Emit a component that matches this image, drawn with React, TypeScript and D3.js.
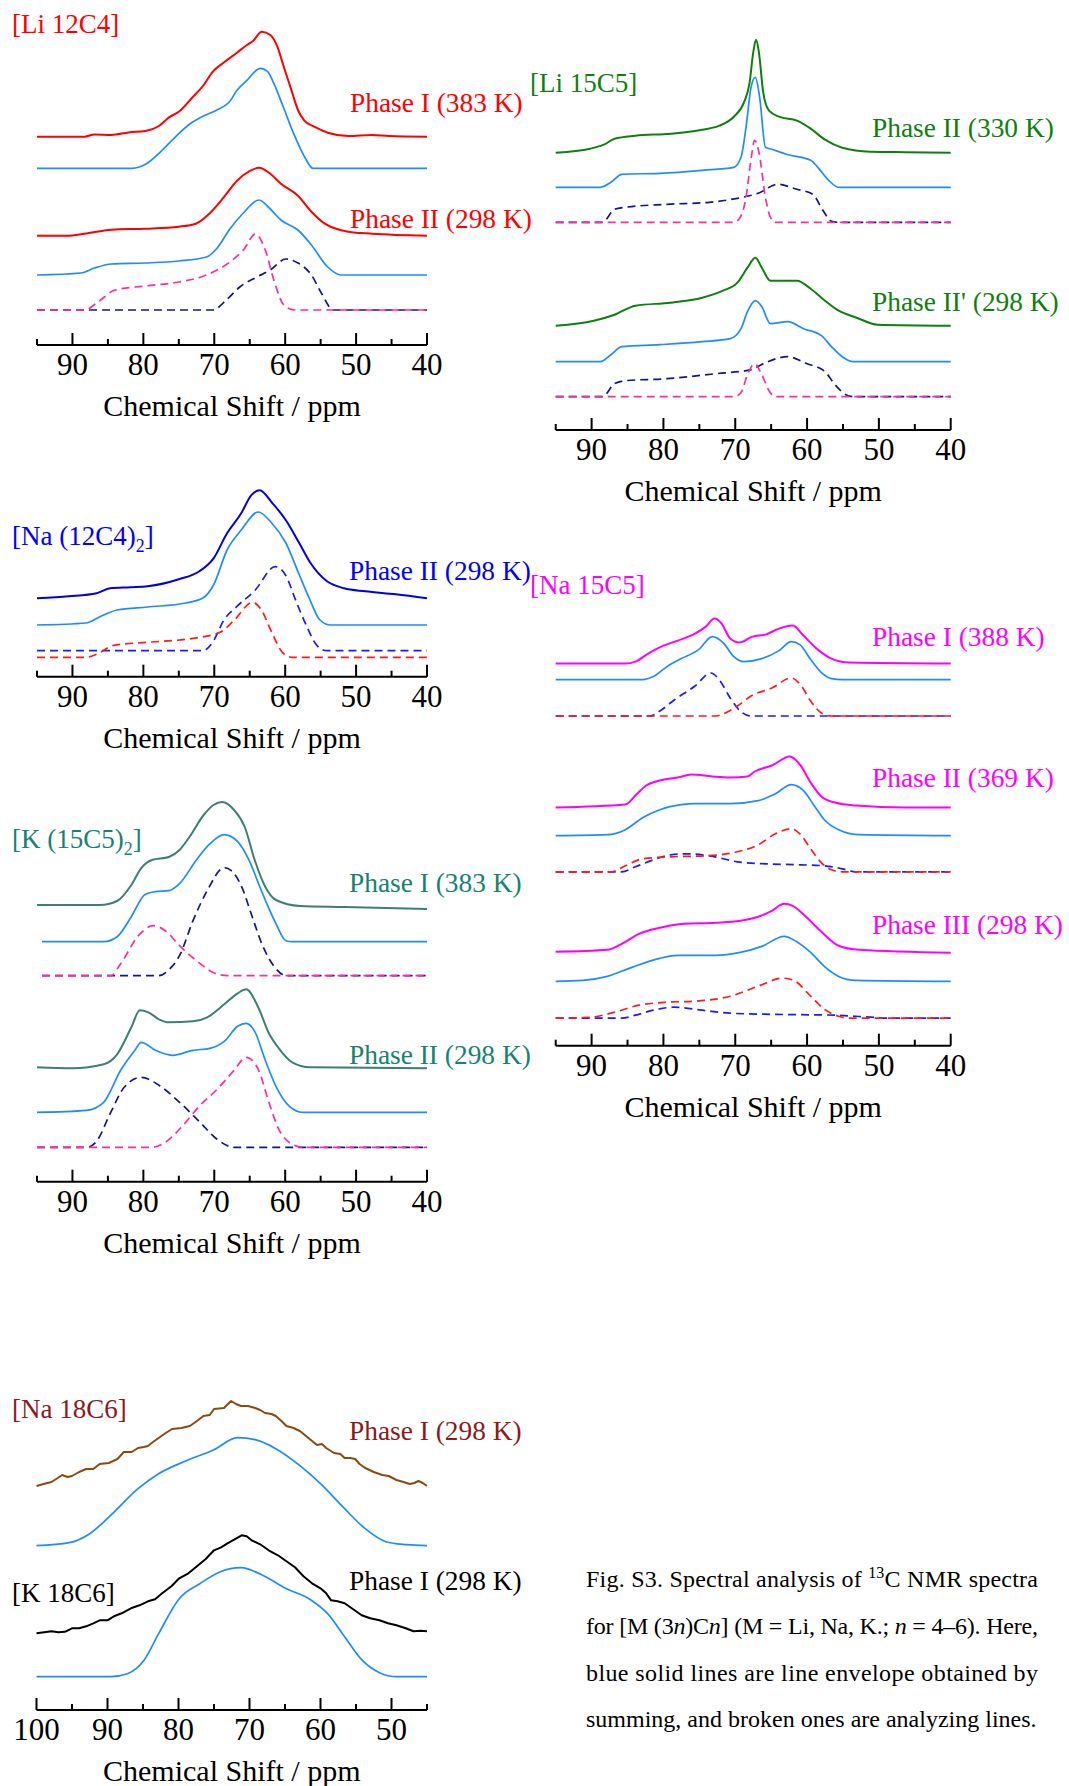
import React from "react";
import * as d3 from "d3";

type Pt = [number, number]; // [ppm, intensity (a.u.)]

// ---------- [Li 12C4] ----------
const li12c4IRaw: Pt[] = [[95,0],[88.3,0],[86.9,2.3],[84.5,1.7],[82.1,4.3],[79.7,5.7],[77.8,10.7],[76.4,19.3],[75,25],[73,40],[71.6,50.7],[70.2,65],[68.7,74],[66.8,84],[65.4,91.7],[64.5,96],[63.3,105],[62.1,101.7],[61.1,90],[60.2,70],[59.2,48.3],[58.2,26.7],[57.3,16],[55.9,10],[54,4],[51.1,0.7],[47.7,1.7],[45.4,0.7],[40,0]];
const li12c4IEnv: Pt[] = [[95,0],[81.6,0],[79.7,4],[77.8,15],[75.4,32],[73.5,44],[71.6,52],[69.7,58],[67.8,67],[66.8,78],[65.4,88],[63.5,100],[62.5,97],[61.6,85],[60.2,60],[58.7,33],[57.3,12],[56.1,0],[40,0]];
const li12c4IIRaw: Pt[] = [[95,0],[90.7,0],[88.3,2],[84.5,6],[79.7,7],[75,9],[72.6,12],[70.7,22],[68.7,38],[66.8,55],[64.9,65],[63.7,68],[62.1,62],[60.6,52],[58.2,40],[56.3,24],[54.4,12],[51.1,4],[47.7,2],[40,0]];
const li12c4IIEnv: Pt[] = [[95,0],[88.8,2],[86.9,7],[84.5,11],[79.7,12],[75,14],[71.1,18],[69.7,26],[67.8,46],[65.9,62],[63.7,75],[62.1,66],[60.6,55],[58.2,45],[56.3,30],[54,8],[52.1,0],[40,0]];
const li12c4IIA: Pt[] = [[95,0],[88.3,0],[86.4,8],[84,20],[79.7,24],[75,28],[71.1,35],[67.8,48],[65.9,60],[64.2,76],[62.8,60],[61.6,30],[60.2,5],[58.7,0],[40,0]];
const li12c4IIB: Pt[] = [[95,0],[70.2,0],[68.3,10],[66.4,23],[64,33],[62.1,40],[59.9,51],[58.2,47],[56.3,35],[54.9,17],[53.2,0],[40,0]];

// ---------- [Li 15C5] ----------
const li15c5IIRaw: Pt[] = [[95,0],[90.2,4],[88.3,8],[86.8,14],[83.9,17],[79,19],[74.6,23],[72.2,27],[70.2,36],[68.8,50],[68,70],[67.5,100],[67.1,113],[66.7,100],[66.1,60],[65.3,42],[63.9,36],[61.4,32],[59.5,24],[57.5,13],[55.1,5],[51.2,1],[46.3,0.5],[40,0]];
const li15c5IIEnv: Pt[] = [[95,0],[88.8,0],[87.3,5],[85.8,13],[80.5,14],[74.6,17],[70.2,20],[69.2,30],[68.5,60],[67.8,100],[67.2,110],[66.6,90],[65.8,40],[64.9,38],[62.9,33],[59.5,27],[58.5,20],[57,7],[55.6,0],[40,0]];
const li15c5IIA: Pt[] = [[95,0],[70.2,0],[69.5,3],[68.5,25],[67.8,63],[67.3,82],[66.7,70],[65.8,25],[65.1,5],[64.4,0],[40,0]];
const li15c5IIB: Pt[] = [[95,0],[88.5,0],[86.8,13],[85.3,15],[79.5,18],[73.6,20],[69.7,24],[66.8,29],[64.1,38],[61.4,33],[59.2,28],[57.8,12],[56.6,1],[55.6,0],[40,0]];
const li15c5IIpRaw: Pt[] = [[95,0],[89.7,5],[86.8,11],[83.9,20],[79,23],[74.6,28],[71.7,35],[69.7,43],[68.3,58],[67.2,68],[66.3,58],[65.1,45],[61.4,45],[59.5,37],[57.5,25],[55.6,15],[53.1,8],[50.2,1],[40,0]];
const li15c5IIpEnv: Pt[] = [[95,0],[88.8,0],[87.3,7],[85.8,15],[80.5,17],[74.6,20],[70.7,23],[69.2,33],[68.3,50],[67.2,61],[66.3,55],[65.1,38],[62.7,40],[60.5,33],[58,26],[56.6,15],[55.1,5],[53.6,0],[40,0]];
const li15c5IIpA: Pt[] = [[95,0],[70.2,0],[69.2,4],[68.3,22],[67.3,33],[66.3,22],[65.3,6],[64.4,0],[40,0]];
const li15c5IIpB: Pt[] = [[95,0],[88.5,0],[86.8,13],[85.3,16],[79.5,18],[72.7,23],[67.8,27],[65.8,34],[62.7,40],[60,33],[57.5,25],[56.1,12],[54.6,2],[53.6,0],[40,0]];

// ---------- [Na (12C4)2] ----------
const na12c4Raw: Pt[] = [[95,0],[90.5,2],[86.6,5],[84.7,10],[81.8,11],[79.4,12],[75,19],[72.1,27],[70.1,40],[68.2,65],[66.2,85],[64.8,103],[63.6,108],[61.9,96],[59.9,78],[58,55],[56.5,36],[54.1,17],[51.7,10],[48.7,7],[44.4,4],[40,0]];
const na12c4Env: Pt[] = [[95,0],[88.1,2],[86.2,8],[83.7,15],[79.4,18],[74,22],[71.6,27],[70.1,40],[68.2,75],[66.2,95],[63.8,113],[61.9,102],[59.9,82],[58,50],[56.5,25],[55.1,5],[53.6,0],[40,0]];
const na12c4A: Pt[] = [[95,0],[71.6,0],[70.1,10],[68.7,30],[66.7,45],[64.3,60],[61.4,84],[59.9,75],[58.5,50],[57,25],[55.5,5],[54.1,0],[40,0]];
const na12c4B: Pt[] = [[95,0],[88.1,0],[86.6,3],[84.2,12],[79.4,15],[73,19],[69.2,25],[67.2,37],[64.6,55],[63.4,48],[61.9,25],[60.4,5],[59,0],[40,0]];

// ---------- [K (15C5)2] ----------
const k15c5IRaw: Pt[] = [[95,0],[86.1,0],[83.7,4],[81.7,20],[80.3,37],[78.8,45],[76.4,48],[74.9,55],[73.5,68],[71.5,90],[70.1,100],[68.9,103],[67.2,95],[65.7,78],[64.3,45],[62.8,18],[61.3,5],[57.9,-1],[51.6,-2],[40,-4]];
const k15c5IEnv: Pt[] = [[94.3,0],[85.6,0],[83.7,5],[81.7,25],[79.8,47],[78.3,50],[76.4,51],[74.9,58],[72.5,82],[70.6,98],[68.6,107],[66.7,100],[65.2,83],[63.3,50],[61.3,18],[59.9,1],[59,0],[40,0]];
const k15c5IA: Pt[] = [[94.3,0],[84.6,0],[83.2,12],[80.7,40],[78.6,50],[76.9,45],[74.9,30],[72.5,15],[70.1,3],[68.1,0],[40,0]];
const k15c5IB: Pt[] = [[94.3,0],[77.8,0],[76.4,6],[74.9,20],[73,55],[71,85],[68.6,108],[67.6,105],[66.2,90],[64.7,60],[63.3,32],[61.3,7],[59.9,0],[40,0]];
const k15c5IIRaw: Pt[] = [[95,0],[90,-1],[85.6,3],[83.7,13],[81.7,40],[80.5,57],[79.3,55],[77.8,48],[76.4,45],[73,46],[71,50],[68.6,63],[66.7,74],[65.5,78],[63.8,60],[62.3,34],[60.9,19],[59,5],[56.5,0],[40,-1]];
const k15c5IIEnv: Pt[] = [[95,0],[88,2],[85.6,10],[83.2,42],[81.2,62],[80.3,70],[78.3,62],[75.9,57],[73,62],[70.6,64],[68.6,71],[66.7,86],[65.5,89],[64.3,81],[62.8,52],[61.3,26],[59.4,6],[57.5,0],[40,0]];
const k15c5IIA: Pt[] = [[95,0],[88,0],[86.6,6],[84.6,35],[82.7,60],[80.3,70],[77.8,62],[74.9,45],[72,25],[69.6,8],[67.2,0],[40,0]];
const k15c5IIB: Pt[] = [[95,0],[78.8,0],[76.9,5],[74.4,22],[72,42],[69.6,58],[67.2,77],[65.5,90],[63.8,78],[62.3,45],[60.9,18],[59,3],[57.5,0],[40,0]];

// ---------- [Na 15C5] ----------
const na15c5IRaw: Pt[] = [[95,0],[85.3,0],[83.9,2],[81.9,11],[80,18],[78,23],[75.6,30],[74.1,37],[72.9,45],[71.9,40],[70.7,25],[69.4,21],[67.6,27],[65.8,29],[63.9,35],[62,38],[60.5,28],[58.5,14],[56.6,5],[54.1,1],[40,0]];
const na15c5IEnv: Pt[] = [[95,0],[82.9,0],[81.4,3],[79.5,13],[77.5,21],[75.1,30],[73.2,43],[71.7,37],[70.2,23],[68.8,18],[66.3,21],[63.9,29],[62.2,38],[61,35],[59.5,20],[58,7],[56.6,1],[55.1,0],[40,0]];
const na15c5IA: Pt[] = [[95,0],[81.9,0],[80.5,5],[78.5,16],[75.6,30],[73.4,43],[72.2,36],[70.7,18],[69.3,5],[67.8,0],[40,0]];
const na15c5IB: Pt[] = [[95,0],[72.7,0],[71.7,2],[69.7,10],[67.8,20],[64.9,28],[62.2,38],[61,32],[59.5,15],[58,3],[56.6,0],[40,0]];
const na15c5IIRaw: Pt[] = [[95,0],[85.3,3],[83.9,12],[82.4,22],[80.5,27],[78,30],[76.1,33],[73.2,31],[70.7,30],[68.3,31],[67.3,36],[64.9,42],[62.4,51],[61,43],[59.5,25],[58,11],[56.1,5],[53.2,2],[46.3,0],[40,0]];
const na15c5IIEnv: Pt[] = [[95,0],[87.8,1],[85.3,6],[82.9,18],[80.5,26],[77.5,31],[75.6,32],[70.7,32],[66.8,35],[64.4,42],[62.2,51],[60.5,45],[59,30],[57.6,16],[55.6,6],[52.7,1],[40,0]];
const na15c5IIA: Pt[] = [[95,0],[87.3,0],[85.3,6],[82.9,13],[79,15],[74.1,16],[69.7,20],[66.8,27],[64.4,38],[62.2,43],[61,38],[59.5,23],[58,9],[56.6,2],[55.1,0],[40,0]];
const na15c5IIB: Pt[] = [[95,0],[85.8,0],[83.9,5],[81.4,12],[79,17],[76.6,18],[73.6,16],[69.7,10],[65.8,8],[61,7],[57.6,6],[55.1,3],[53.2,0],[40,0]];
const na15c5IIIRaw: Pt[] = [[95,0],[87.8,2],[85.8,8],[83.4,18],[80.5,24],[77.1,28],[72.7,29],[69.3,31],[66.8,35],[64.9,41],[63.2,48],[62,46],[60,34],[58,20],[55.6,6],[52.7,2],[40,-1]];
const na15c5IIIEnv: Pt[] = [[95,0],[91.2,1],[87.8,5],[84.4,14],[80.5,23],[78,26],[72.7,26],[69.3,29],[66.3,35],[63.2,45],[61.5,40],[59.5,29],[57.6,15],[55.6,5],[53.2,1],[40,0]];
const na15c5IIIA: Pt[] = [[95,0],[90.2,1],[87.3,5],[83.4,13],[79.5,16],[75.6,17],[70.7,22],[66.8,32],[63.4,40],[61.9,38],[59.5,22],[57.6,9],[55.6,2],[54.1,0],[40,0]];
const na15c5IIIB: Pt[] = [[95,0],[85.8,0],[83.9,3],[81.4,8],[78.5,11],[74.6,8],[70.7,5],[65.8,4],[61,3.5],[56.1,3],[51.2,1],[48.8,0],[40,0]];

// ---------- [Na 18C6] / [K 18C6] ----------
const na18c6Raw: Pt[] = [[100,0],[99,2],[97.9,4],[97,8],[96.4,11],[95.6,9],[95,10],[94,14],[93,17],[92,17],[91.1,22],[89.8,23],[88.6,27],[87.7,34],[86.6,34],[85.7,38],[84.9,39],[84.3,40],[83.6,44],[82.8,48],[81.8,53],[80.9,57],[79.6,58],[78.4,60],[77.4,65],[76.5,70],[75.6,71],[75,77],[73.6,78],[72.6,85],[71.9,82],[71.2,80],[70.2,80],[69.2,78],[68.5,76],[67.8,73],[66.9,72],[66.3,70],[65.5,65],[64.8,60],[63.8,58],[62.9,55],[61.7,48],[60.5,41],[59.8,42],[59.2,38],[58.1,33],[57.2,32],[56.6,28],[55.8,28],[55.1,27],[54.5,22],[53.7,18],[52.5,14],[51.3,11],[50.4,10],[49.3,6],[48.3,4],[47.4,2],[46.8,3],[46.2,5],[45.6,3],[45,0]];
const na18c6Env: Pt[] = [[100,0],[95.4,3],[92.5,12],[89.6,30],[85.7,57],[82.8,72],[78.9,85],[75,96],[71.7,108],[69.2,106],[66.3,97],[62.9,80],[60,62],[56.6,37],[53.7,17],[50.8,4],[47.9,1],[45,0]];
const k18c6Raw: Pt[] = [[100,0],[98.9,1],[97.9,2],[96.9,1],[96,1.5],[95,5],[94,5],[93,7],[92,10],[91.1,13],[90,13],[89.1,17],[88,20],[86.7,25],[85.5,28],[84.3,32],[83.3,34],[82.3,40],[81,47],[79.9,55],[78.6,60],[77.4,67],[76.2,74],[75,83],[74,86],[73.1,90],[72.1,94],[71.1,98],[70.4,97],[69.7,93],[68.5,89],[67.3,83],[66,78],[64.8,72],[63.6,66],[62.4,57],[61.2,50],[60,45],[59.2,40],[58.5,33],[57.6,32],[56.6,30],[55.4,24],[54.2,18],[53,15],[51.7,13],[50.5,10],[49.3,8],[48,5],[46.9,2],[45.9,2.5],[45,2]];
const k18c6Env: Pt[] = [[100,0],[89.6,0],[87.2,3],[84.8,17],[82.8,43],[79.9,78],[77,93],[74.1,105],[71.2,109],[68.3,102],[64.8,88],[61.4,77],[59,63],[56.6,40],[54.2,17],[51.7,4],[49.3,0],[45,0]];

// ---------- axes ----------
const majorTicks = [90, 80, 70, 60, 50, 40];
const minorTicks = [95, 85, 75, 65, 55, 45];
const majorTicks18 = [100, 90, 80, 70, 60, 50];
const minorTicks18 = [95, 85, 75, 65, 55, 45];

const FONT = '"Liberation Serif", "Times New Roman", Times, serif';
const ENV = "#1E8CFF";
const PINK = "#FF2D9B";
const NAVY = "#14148C";
const PHASE_SIZE = 27.4;

type Trace = { data: Pt[]; base: number; color: string; dashed?: boolean; width?: number; jagged?: boolean };
type Part = { t: string; sub?: boolean };
type Label = { parts: Part[]; x: number; y: number; color: string; size: number };
type Panel = {
  x0: number; x1: number; axisY: number; domain: [number, number];
  major: number[]; minor: number[]; traces: Trace[]; labels: Label[];
};

const lbl = (t: string, x: number, y: number, color: string, size = PHASE_SIZE): Label => ({ parts: [{ t }], x, y, color, size });

const panels: Panel[] = [
  {
    x0: 37, x1: 427, axisY: 345, domain: [95, 40], major: majorTicks, minor: minorTicks,
    traces: [
      { data: li12c4IRaw, base: 208.3, color: "#FF0000", width: 2 },
      { data: li12c4IEnv, base: 176.7, color: ENV },
      { data: li12c4IIRaw, base: 109.3, color: "#FF0000", width: 2 },
      { data: li12c4IIEnv, base: 70, color: ENV },
      { data: li12c4IIB, base: 35, color: NAVY, dashed: true },
      { data: li12c4IIA, base: 35, color: PINK, dashed: true },
    ],
    labels: [
      lbl("[Li 12C4]", 12, 33, "#FF0000", 27),
      lbl("Phase I (383 K)", 350, 112, "#FF0000"),
      lbl("Phase II (298 K)", 350, 228, "#FF0000"),
    ],
  },
  {
    x0: 555.7, x1: 950.7, axisY: 430, domain: [95, 40], major: majorTicks, minor: minorTicks,
    traces: [
      { data: li15c5IIRaw, base: 277.3, color: "#0F7F0F", width: 2 },
      { data: li15c5IIEnv, base: 242.7, color: ENV },
      { data: li15c5IIB, base: 207.7, color: NAVY, dashed: true },
      { data: li15c5IIA, base: 207.7, color: PINK, dashed: true },
      { data: li15c5IIpRaw, base: 104.3, color: "#0F7F0F", width: 2 },
      { data: li15c5IIpEnv, base: 68.3, color: ENV },
      { data: li15c5IIpB, base: 33.3, color: NAVY, dashed: true },
      { data: li15c5IIpA, base: 33.3, color: PINK, dashed: true },
    ],
    labels: [
      lbl("[Li 15C5]", 530, 92, "#0F7F0F", 27),
      lbl("Phase II (330 K)", 872, 137, "#0F7F0F"),
      lbl("Phase II' (298 K)", 872, 310.5, "#0F7F0F"),
    ],
  },
  {
    x0: 37, x1: 427, axisY: 676.7, domain: [95, 40], major: majorTicks, minor: minorTicks,
    traces: [
      { data: na12c4Raw, base: 78.4, color: "#0000E6", width: 2 },
      { data: na12c4Env, base: 51.7, color: ENV },
      { data: na12c4A, base: 26, color: "#1A1AFF", dashed: true },
      { data: na12c4B, base: 19.4, color: "#FF1A1A", dashed: true },
    ],
    labels: [
      { parts: [{ t: "[Na (12C4)" }, { t: "2", sub: true }, { t: "]" }], x: 12, y: 545, color: "#0000FF", size: 27 },
      lbl("Phase II (298 K)", 349, 580, "#0000FF"),
    ],
  },
  {
    x0: 37, x1: 427, axisY: 1181.7, domain: [95, 40], major: majorTicks, minor: minorTicks,
    traces: [
      { data: k15c5IRaw, base: 276.7, color: "#3E7F74", width: 2 },
      { data: k15c5IEnv, base: 240, color: ENV },
      { data: k15c5IB, base: 206, color: NAVY, dashed: true },
      { data: k15c5IA, base: 206, color: PINK, dashed: true },
      { data: k15c5IIRaw, base: 114.4, color: "#3E7F74", width: 2 },
      { data: k15c5IIEnv, base: 69.4, color: ENV },
      { data: k15c5IIA, base: 34.4, color: NAVY, dashed: true },
      { data: k15c5IIB, base: 34.4, color: PINK, dashed: true },
    ],
    labels: [
      { parts: [{ t: "[K (15C5)" }, { t: "2", sub: true }, { t: "]" }], x: 12, y: 848, color: "#178272", size: 27 },
      lbl("Phase I (383 K)", 349, 891.5, "#178272"),
      lbl("Phase II (298 K)", 349, 1064, "#178272"),
    ],
  },
  {
    x0: 555.7, x1: 950.7, axisY: 1045.7, domain: [95, 40], major: majorTicks, minor: minorTicks,
    traces: [
      { data: na15c5IRaw, base: 382.1, color: "#FF00FF", width: 2 },
      { data: na15c5IEnv, base: 366.1, color: ENV },
      { data: na15c5IA, base: 329.7, color: "#1A1AFF", dashed: true },
      { data: na15c5IB, base: 329.7, color: "#FF1A1A", dashed: true },
      { data: na15c5IIRaw, base: 238.2, color: "#FF00FF", width: 2 },
      { data: na15c5IIEnv, base: 210, color: ENV },
      { data: na15c5IIB, base: 173.9, color: "#1A1AFF", dashed: true },
      { data: na15c5IIA, base: 173.9, color: "#FF1A1A", dashed: true },
      { data: na15c5IIIRaw, base: 93.9, color: "#FF00FF", width: 2 },
      { data: na15c5IIIEnv, base: 64.3, color: ENV },
      { data: na15c5IIIB, base: 27.5, color: "#1A1AFF", dashed: true },
      { data: na15c5IIIA, base: 27.5, color: "#FF1A1A", dashed: true },
    ],
    labels: [
      lbl("[Na 15C5]", 530, 594, "#FF00FF", 27),
      lbl("Phase I (388 K)", 872, 645.5, "#FF00FF"),
      lbl("Phase II (369 K)", 872, 787, "#FF00FF"),
      lbl("Phase III (298 K)", 872, 934, "#FF00FF"),
    ],
  },
  {
    x0: 36.5, x1: 427, axisY: 1710, domain: [100, 45], major: majorTicks18, minor: minorTicks18,
    traces: [
      { data: na18c6Raw, base: 224, color: "#8A4A12", width: 2, jagged: true },
      { data: na18c6Env, base: 164.3, color: ENV },
      { data: k18c6Raw, base: 76.7, color: "#000000", width: 2, jagged: true },
      { data: k18c6Env, base: 33.3, color: ENV },
    ],
    labels: [
      lbl("[Na 18C6]", 12, 1418, "#8B1A1A", 27),
      lbl("Phase I (298 K)", 349, 1440, "#8B1A1A"),
      lbl("[K 18C6]", 12, 1602, "#000000", 27),
      lbl("Phase I (298 K)", 349, 1590, "#000000"),
    ],
  },
];

function SpectrumPanel({ p }: { p: Panel }) {
  const x = d3.scaleLinear().domain(p.domain).range([p.x0, p.x1]);
  const y = d3.scaleLinear().domain([0, 400]).range([p.axisY, p.axisY - 400]);
  const xc = (p.x0 + p.x1) / 2;
  return (
    <g>
      {p.traces.map((t, i) => {
        const line = d3
          .line<Pt>()
          .x((d) => x(d[0]))
          .y((d) => y(t.base + d[1]))
          .curve(t.jagged ? d3.curveLinear : d3.curveMonotoneX);
        return (
          <path
            key={i}
            d={line(t.data) || ""}
            fill="none"
            stroke={t.color}
            strokeWidth={t.width ?? 1.7}
            strokeDasharray={t.dashed ? "8,5" : undefined}
            strokeLinejoin="round"
          />
        );
      })}
      <line x1={p.x0} x2={p.x1} y1={p.axisY} y2={p.axisY} stroke="#000" strokeWidth={2} />
      {p.major.map((v) => (
        <g key={"M" + v}>
          <line x1={x(v)} x2={x(v)} y1={p.axisY} y2={p.axisY - 12} stroke="#000" strokeWidth={2} />
          <text x={x(v)} y={p.axisY + 30} textAnchor="middle" fontSize={31} fontFamily={FONT}>
            {v}
          </text>
        </g>
      ))}
      {p.minor.map((v) => (
        <line key={"m" + v} x1={x(v)} x2={x(v)} y1={p.axisY} y2={p.axisY - 6} stroke="#000" strokeWidth={2} />
      ))}
      <text x={xc} y={p.axisY + 71} textAnchor="middle" fontSize={30} fontFamily={FONT}>
        Chemical Shift / ppm
      </text>
      {p.labels.map((l, i) => (
        <text key={i} x={l.x} y={l.y} fill={l.color} fontSize={l.size} fontFamily={FONT}>
          {l.parts.map((pt, j) =>
            pt.sub ? (
              <tspan key={j} fontSize={l.size * 0.66} dy={7}>
                {pt.t}
              </tspan>
            ) : (
              <tspan key={j} dy={j > 0 && l.parts[j - 1].sub ? -7 : 0}>
                {pt.t}
              </tspan>
            )
          )}
        </text>
      ))}
    </g>
  );
}

function Caption() {
  const x0 = 586;
  const w = 452;
  const fs = 24;
  return (
    <g fontFamily={FONT} fontSize={fs} fill="#000">
      <text x={x0} y={1587} textLength={w} lengthAdjust="spacing">
        Fig. S3. Spectral analysis of{" "}
        <tspan fontSize={16} dy={-9}>13</tspan>
        <tspan dy={9}>C NMR spectra</tspan>
      </text>
      <text x={x0} y={1634} textLength={w} lengthAdjust="spacing">
        for [M (3<tspan fontStyle="italic">n</tspan>)C<tspan fontStyle="italic">n</tspan>] (M = Li, Na, K.;{" "}
        <tspan fontStyle="italic">n</tspan> = 4–6). Here,
      </text>
      <text x={x0} y={1680.5} textLength={w} lengthAdjust="spacing">
        blue solid lines are line envelope obtained by
      </text>
      <text x={x0} y={1727}>summing, and broken ones are analyzing lines.</text>
    </g>
  );
}

export default function App() {
  return (
    <svg
      width={1069}
      height={1786}
      viewBox="0 0 1069 1786"
      style={{ position: "absolute", left: 0, top: 0, background: "#fff" }}
    >
      <rect width={1069} height={1786} fill="#fff" />
      {panels.map((p, i) => (
        <SpectrumPanel key={i} p={p} />
      ))}
      <Caption />
    </svg>
  );
}
